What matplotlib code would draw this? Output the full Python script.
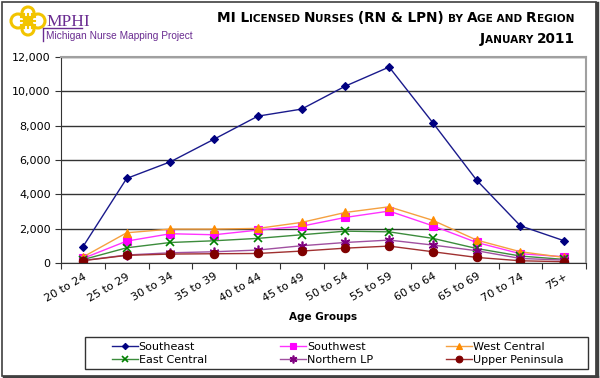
import numpy as np
import matplotlib.pyplot as plt
from matplotlib.patches import Rectangle, Circle
from matplotlib.lines import Line2D

ages = ['20 to 24', '25 to 29', '30 to 34', '35 to 39', '40 to 44', '45 to 49',
        '50 to 54', '55 to 59', '60 to 64', '65 to 69', '70 to 74', '75+']
southeast = [950, 4930, 5900, 7220, 8560, 8970, 10310, 11420, 8170, 4830, 2170, 1300]
southwest = [270, 1280, 1710, 1650, 1920, 2150, 2660, 3030, 2170, 1200, 545, 370]
west_central = [350, 1765, 1980, 1980, 2020, 2370, 2950, 3280, 2490, 1340, 660, 330]
east_central = [200, 890, 1200, 1300, 1440, 1650, 1860, 1820, 1440, 850, 410, 215]
northern_lp = [150, 470, 600, 660, 760, 1010, 1200, 1340, 1050, 720, 270, 175]
upper_pen = [140, 450, 525, 545, 560, 700, 870, 990, 660, 330, 135, 80]
yticks = [0, 2000, 4000, 6000, 8000, 10000, 12000]

series = [
    ('Southeast', southeast, '#1a1a8c', '#000080', 'D', 4),
    ('Southwest', southwest, '#ff33ff', '#ff00ff', 's', 6),
    ('West Central', west_central, '#f5a040', '#ff8c00', '^', 6),
    ('East Central', east_central, '#3c8c3c', '#008000', 'x', 6),
    ('Northern LP', northern_lp, '#a050a0', '#800080', (6, 2, 0), 7),
    ('Upper Peninsula', upper_pen, '#a03030', '#800000', 'o', 6),
]

H = 378
fig = plt.figure(figsize=(6, 3.78), dpi=100)
ax = fig.add_axes([0.1017, 0.304, 0.875, 0.545])

x = np.arange(len(ages))
for name, vals, lc, mc, mk, ms in series:
    ax.plot(x, vals, color=lc, lw=1, marker=mk, markersize=ms,
            markerfacecolor=mc, markeredgecolor=mc,
            markeredgewidth=1.2 if mk in ('x', (6, 2, 0)) else 0.8, label=name)

ax.set_xlim(-0.5, len(ages) - 0.5)
ax.set_ylim(0, 12000)
ax.set_yticks(yticks)
ax.set_yticklabels([f'{v:,}' for v in yticks], fontsize=8)
ax.yaxis.grid(True, color='#333333', lw=1)
ax.set_axisbelow(True)
ax.set_xticks(np.arange(len(ages) + 1) - 0.5)
ax.set_xticklabels([])
ax.set_xticks(x, minor=True)
ax.set_xticklabels(ages, minor=True, rotation=30, ha='right', rotation_mode='anchor', fontsize=8)
ax.tick_params(axis='x', which='minor', length=0, pad=6)
ax.tick_params(axis='x', which='major', length=4, color='#333333')
ax.tick_params(axis='y', length=4, color='#333333')
for s in ('left', 'bottom'):
    ax.spines[s].set_color('#333333')
for s in ('top', 'right'):
    ax.spines[s].set_color('#a0a0a0')
    ax.spines[s].set_linewidth(1.5)
ax.set_xlabel('Age Groups', fontsize=7.5, fontweight='bold', labelpad=6)

# legend, box drawn separately
handles, labels = ax.get_legend_handles_labels()
order = [0, 3, 1, 4, 2, 5]
leg = fig.legend([handles[i] for i in order], [labels[i] for i in order], ncol=3,
                 loc='center left', bbox_to_anchor=(112 / 600, 1 - 353.5 / H),
                 fontsize=8, frameon=False, handlelength=2.3, handletextpad=0.1,
                 columnspacing=6.6, labelspacing=0.25, borderpad=0, borderaxespad=0,
                 markerscale=0.8)
fig.patches.append(Rectangle((85, H - 369), 503, 32, transform=None, fill=False,
                             edgecolor='#333333', lw=1))


def smallcaps(parts, xr, y):
    r = fig.canvas.get_renderer()
    objs = []
    for txt, sz in parts:
        t = fig.text(0, y, txt, fontsize=sz, fontweight='bold', va='baseline', transform=None)
        objs.append(t)
    widths = [t.get_window_extent(r).width for t in objs]
    pos = xr - sum(widths)
    for t, w in zip(objs, widths):
        t.set_x(pos)
        pos += w


B, S = 9.8, 7.6
smallcaps([('MI L', B), ('ICENSED ', S), ('N', B), ('URSES ', S), ('(RN & LPN) ', B),
           ('BY ', S), ('A', B), ('GE AND ', S), ('R', B), ('EGION', S)], 574, H - 22)
smallcaps([('J', B), ('ANUARY ', S), ('2011', B)], 575, H - 43)

# logo
for cx, cy, rr in [(18, 21, 7), (38, 21, 7), (28, 13, 6), (28, 29, 6)]:
    fig.patches.append(Circle((cx, H - cy), rr, transform=None, fill=False,
                              edgecolor='#f2c400', lw=2.2))
for k in (24, 28, 32):
    fig.add_artist(Line2D([k, k], [H - 14, H - 28], transform=None, color='#f2c400', lw=1.5))
    fig.add_artist(Line2D([21, 35], [H - k + 7, H - k + 7], transform=None, color='#f2c400', lw=1.5))
fig.text(46, H - 26, 'MPHI', fontsize=12.5, family='Liberation Serif', color='#6a2c91', transform=None)
fig.add_artist(Line2D([44, 82], [H - 27.5, H - 27.5], transform=None, color='#6a2c91', lw=1))
fig.add_artist(Line2D([43, 43], [H - 27.5, H - 41], transform=None, color='#6a2c91', lw=1))
fig.text(46, H - 39, 'Michigan Nurse Mapping Project', fontsize=7.3, family='Liberation Sans',
         color='#6a2c91', transform=None)

# figure border
fig.patches.append(Rectangle((2, 2), 594, 374, transform=None, fill=False,
                             edgecolor='#404040', lw=1.2))
fig.add_artist(Line2D([597, 597], [1, 375], transform=None, color='#404040', lw=2.5))
fig.add_artist(Line2D([4, 597], [1, 1], transform=None, color='#404040', lw=2.5))

fig.savefig('out.png', dpi=100)
